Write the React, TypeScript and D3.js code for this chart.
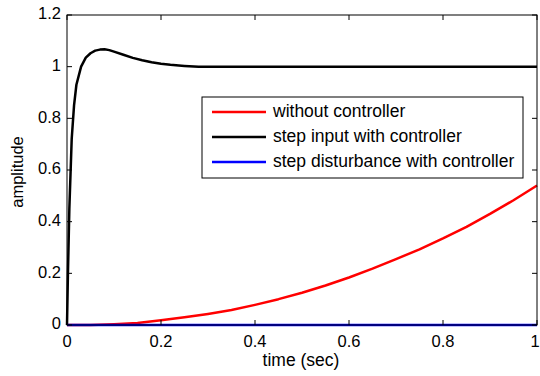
import React from 'react'
import * as d3 from 'd3'

// sample times and values
const tBlack = [0, 0.002, 0.005, 0.01, 0.015, 0.02, 0.03, 0.04, 0.05, 0.06, 0.07, 0.08, 0.09, 0.1, 0.12, 0.14, 0.16, 0.18, 0.2, 0.22, 0.25, 0.28, 0.3, 0.5, 0.8, 1.0];
const yBlack = [0, 0.2, 0.45, 0.72, 0.85, 0.93, 1.0, 1.035, 1.052, 1.062, 1.066, 1.067, 1.064, 1.058, 1.046, 1.034, 1.025, 1.017, 1.011, 1.007, 1.003, 1.0, 1.0, 1.0, 1.0, 1.0];

const tRed = [0, 0.05, 0.1, 0.15, 0.2, 0.25, 0.3, 0.35, 0.4, 0.45, 0.5, 0.55, 0.6, 0.65, 0.7, 0.75, 0.8, 0.85, 0.9, 0.95, 1.0];
const yRed = [0, 0, 0.003, 0.008, 0.018, 0.03, 0.043, 0.058, 0.078, 0.1, 0.125, 0.153, 0.184, 0.218, 0.255, 0.293, 0.335, 0.38, 0.43, 0.483, 0.54];

const tBlue = [0, 1];
const yBlue = [0, 0];

const xTicks = [0, 0.2, 0.4, 0.6, 0.8, 1];
const yTicks = [0, 0.2, 0.4, 0.6, 0.8, 1, 1.2];

const legendItems = [
  { label: 'without controller', color: '#ff0000' },
  { label: 'step input with controller', color: '#000000' },
  { label: 'step disturbance with controller', color: '#0000ff' },
];

const W = 540, H = 376;
const left = 67, right = 537, top = 15, bottom = 325;
const font = '"Liberation Sans", Arial, Helvetica, sans-serif';

export default function App() {
  const x = d3.scaleLinear().domain([0, 1]).range([left, right]);
  const y = d3.scaleLinear().domain([0, 1.2]).range([bottom, top]);

  const line = d3.line<[number, number]>()
    .x(d => x(d[0]))
    .y(d => y(d[1]));

  const series = [
    { t: tRed, v: yRed, color: '#ff0000' },
    { t: tBlack, v: yBlack, color: '#000000' },
    { t: tBlue, v: yBlue, color: '#0000ff' },
  ];

  const tk = 5;
  const lgX = 202, lgY = 97, lgW = 321, lgH = 81;

  return (
    <svg width={W} height={H} style={{ position: 'absolute', left: 0, top: 0, background: '#fff' }}
      fontFamily={font}>
      <rect x={0} y={0} width={W} height={H} fill="#fff" />
      {series.map((s, i) => (
        <path key={i} d={line(s.t.map((t, j) => [t, s.v[j]] as [number, number])) || ''}
          fill="none" stroke={s.color} strokeWidth={2.5} strokeLinejoin="round" />
      ))}
      <rect x={left} y={top} width={right - left} height={bottom - top} fill="none" stroke="#000" strokeWidth={1} />
      {xTicks.map(t => {
        // keep the last label inside the window
        const lx = Math.min(x(t), W - 5);
        return (
          <g key={'x' + t}>
            <line x1={x(t)} x2={x(t)} y1={bottom} y2={bottom - tk} stroke="#000" />
            <line x1={x(t)} x2={x(t)} y1={top} y2={top + tk} stroke="#000" />
            <text x={lx} y={bottom + 18} fontSize={16.5} textAnchor="middle" dominantBaseline="middle">{String(t)}</text>
          </g>
        );
      })}
      {yTicks.map(t => (
        <g key={'y' + t}>
          <line x1={left} x2={left + tk} y1={y(t)} y2={y(t)} stroke="#000" />
          <line x1={right} x2={right - tk} y1={y(t)} y2={y(t)} stroke="#000" />
          <text x={left - 6} y={y(t)} fontSize={16.5} textAnchor="end" dominantBaseline="middle">{String(t)}</text>
        </g>
      ))}
      <text x={301} y={361} fontSize={17.5} textAnchor="middle" dominantBaseline="middle">time (sec)</text>
      <text transform={`translate(19,172) rotate(-90)`} fontSize={16.5} textAnchor="middle" dominantBaseline="middle">amplitude</text>
      <rect x={lgX} y={lgY} width={lgW} height={lgH} fill="#fff" stroke="#000" strokeWidth={1} />
      {legendItems.map((d, i) => {
        const cy = 112 + i * 25;
        return (
          <g key={d.label}>
            <line x1={212} x2={266} y1={cy} y2={cy} stroke={d.color} strokeWidth={2.5} />
            <text x={273} y={cy} fontSize={17.5} dominantBaseline="middle">{d.label}</text>
          </g>
        );
      })}
    </svg>
  );
}
